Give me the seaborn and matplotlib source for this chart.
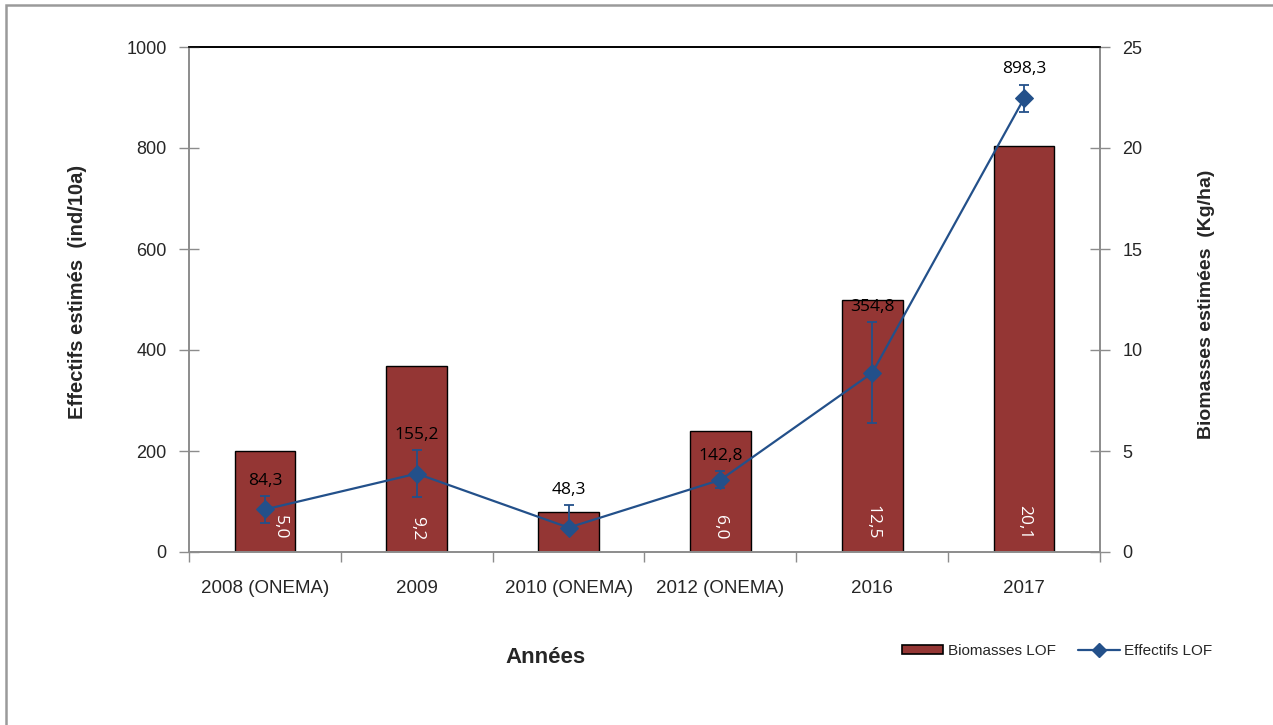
import matplotlib
matplotlib.use("Agg")
import matplotlib.pyplot as plt
import seaborn as sns
import numpy as np
import pandas as pd
from matplotlib.patches import Patch, Rectangle
from matplotlib.lines import Line2D
from matplotlib.ticker import FixedLocator

# data
annees = ["2008 (ONEMA)", "2009", "2010 (ONEMA)", "2012 (ONEMA)", "2016", "2017"]
biomasses = [5.0, 9.2, 2.0, 6.0, 12.5, 20.1]          # Kg/ha, right axis (bars)
effectifs = [84.3, 155.2, 48.3, 142.8, 354.8, 898.3]  # ind/10a, left axis (line)
err_bas = [26, 47, 0, 17, 100, 27]
err_haut = [26, 47, 45, 17, 100, 27]
bar_labels = ["5,0", "9,2", "", "6,0", "12,5", "20,1"]
line_labels = ["84,3", "155,2", "48,3", "142,8", "354,8", "898,3"]

RED = "#943634"
BLUE = "#23508a"
GREY = "#8c8c8c"

sns.set_style("white")
plt.rcParams["font.family"] = ["Liberation Sans", "DejaVu Sans"]

df = pd.DataFrame({"annee": annees, "bio": biomasses, "eff": effectifs})

fig = plt.figure(figsize=(12.73, 7.25), dpi=100)
ax = fig.add_axes([189 / 1273, 1 - 552 / 725, 911 / 1273, 505 / 725])
# twin first: twinx() resets the parent's ticks to the left side
ax2 = ax.twinx()

# bars on the primary axes, which carries the right-hand scale
sns.barplot(data=df, x="annee", y="bio", color=RED, width=0.4,
            edgecolor="black", linewidth=1, saturation=1, ax=ax)
ax.set_ylim(0, 25)
ax.set_xlim(-0.5, 5.5)
ax.yaxis.tick_right()
ax.yaxis.set_label_position("right")
ax.set_yticks([0, 5, 10, 15, 20, 25])
ax.set_ylabel("Biomasses estimées  (Kg/ha)", fontsize=14, fontweight="bold")
ax.yaxis.set_label_coords(1.108, 0.49)
ax.set_xlabel("Années", fontsize=16, fontweight="bold")
ax.xaxis.set_label_coords(0.391, -0.188)
ax.tick_params(axis="y", direction="inout", length=14, width=1, color=GREY,
               labelsize=13, pad=9, right=True, left=False,
               labelright=True, labelleft=False)
ax.tick_params(axis="x", which="major", length=0, labelsize=13.5, pad=20)
ax.xaxis.set_minor_locator(FixedLocator(np.arange(-0.5, 6, 1)))
ax.tick_params(axis="x", which="minor", direction="out", length=7, width=1,
               color=GREY, bottom=True)

# white value labels inside the bars
for i, lab in enumerate(bar_labels):
    if not lab:
        continue
    dx = 0.1 if i == 0 else 0.0
    ax.text(i + dx, 0.6, lab, rotation=-90, color="white", fontsize=12.5,
            family=["Open Sans", "DejaVu Sans"], ha="center", va="bottom")

# line on the twin axes, left-hand scale
ax2.set_ylim(0, 1000)
ax2.yaxis.tick_left()
ax2.yaxis.set_label_position("left")
ax2.set_yticks([0, 200, 400, 600, 800, 1000])
ax2.set_ylabel("Effectifs estimés  (ind/10a)", fontsize=14.5, fontweight="bold")
ax2.yaxis.set_label_coords(-0.112, 0.515)
ax2.tick_params(axis="y", direction="inout", length=14, width=1, color=GREY,
                labelsize=13, pad=9, left=True, right=False,
                labelleft=True, labelright=False)

xs = np.arange(len(effectifs))
ax2.errorbar(xs, effectifs, yerr=[err_bas, err_haut], fmt="none", ecolor=BLUE,
             elinewidth=1.3, capsize=3.6, capthick=1.3, zorder=4)
sns.lineplot(x=xs, y=effectifs, color=BLUE, lw=1.6, marker="D", markersize=9,
             markeredgecolor=BLUE, zorder=5, ax=ax2, legend=False)

for i, lab in enumerate(line_labels):
    ax2.annotate(lab, (xs[i], effectifs[i] + err_haut[i]), xytext=(0, 11),
                 textcoords="offset points", ha="center", va="center",
                 fontsize=12.5, family=["Open Sans", "DejaVu Sans"], color="black")

ax2.set_xlim(-0.5, 5.5)

# spines
for a in (ax, ax2):
    for s in ("left", "right", "bottom"):
        a.spines[s].set_color(GREY)
        a.spines[s].set_linewidth(1.2)
    a.spines["top"].set_color("black")
    a.spines["top"].set_linewidth(1.2)

# legend
handles = [
    Patch(facecolor=RED, edgecolor="black", linewidth=1.2, label="Biomasses LOF"),
    Line2D([0], [0], color=BLUE, lw=1.6, marker="D", markersize=7, label="Effectifs LOF"),
]
fig.legend(handles=handles, loc="center", bbox_to_anchor=(1057 / 1273, 1 - 651 / 725),
           ncol=2, frameon=False, fontsize=11, handlelength=2.7, handleheight=0.55,
           handletextpad=0.3, columnspacing=1.5)

# outer chart border (continues past the right and bottom edges)
fig.patches.append(Rectangle((6 / 1273, -0.1), 2, 1 - 5 / 725 + 0.1, transform=fig.transFigure,
                             fill=False, edgecolor="#9a9a9a", lw=1.8))

fig.savefig("out.png", dpi=100)
